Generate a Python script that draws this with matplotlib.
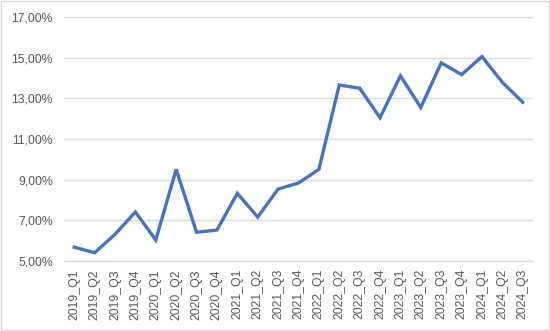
import matplotlib
matplotlib.use("Agg")
import matplotlib.pyplot as plt
from matplotlib.ticker import FuncFormatter

categories = ["2019_Q1", "2019_Q2", "2019_Q3", "2019_Q4",
              "2020_Q1", "2020_Q2", "2020_Q3", "2020_Q4",
              "2021_Q1", "2021_Q2", "2021_Q3", "2021_Q4",
              "2022_Q1", "2022_Q2", "2022_Q3", "2022_Q4",
              "2023_Q1", "2023_Q2", "2023_Q3", "2023_Q4",
              "2024_Q1", "2024_Q2", "2024_Q3"]
values = [5.67, 5.39, 6.30, 7.40,
          6.02, 9.50, 6.40, 6.51,
          8.32, 7.15, 8.53, 8.83,
          9.50, 13.66, 13.50, 12.05,
          14.11, 12.55, 14.75, 14.17,
          15.06, 13.79, 12.81]
yticks = [5, 7, 9, 11, 13, 15, 17]

plt.rcParams['font.family'] = ['Liberation Sans', 'DejaVu Sans']

fig = plt.figure(figsize=(5.5, 3.31), dpi=100)
ax = fig.add_axes([0.1164, 0.2124, 0.969 - 0.1164, 0.948 - 0.2124])

x = list(range(len(categories)))
ax.plot(x, values, color="#4472C4", lw=2.4, solid_joinstyle="miter", zorder=3)

ax.set_xlim(-0.5, len(categories) - 0.5)
ax.set_ylim(5, 17)
ax.set_yticks(yticks)
ax.yaxis.set_major_formatter(FuncFormatter(lambda v, p: f"{v:.2f}".replace(".", ",") + "%"))
ax.set_xticks(x)
ax.set_xticklabels(categories, rotation=90)
ax.tick_params(axis="both", length=0, labelsize=8.8, colors="#595959")
ax.tick_params(axis="y", pad=8)
ax.tick_params(axis="x", pad=6)
ax.grid(axis="y", color="#D9D9D9", lw=1)
ax.set_axisbelow(True)
for s in ["top", "right", "left"]:
    ax.spines[s].set_visible(False)
ax.spines["bottom"].set_color("#D9D9D9")
ax.spines["bottom"].set_linewidth(1)

fig.patches.append(plt.Rectangle((0.001, 0.002), 0.997, 0.995, transform=fig.transFigure,
                                 fill=False, edgecolor="#D9D9D9", lw=1))
fig.savefig("out.png", dpi=100)
